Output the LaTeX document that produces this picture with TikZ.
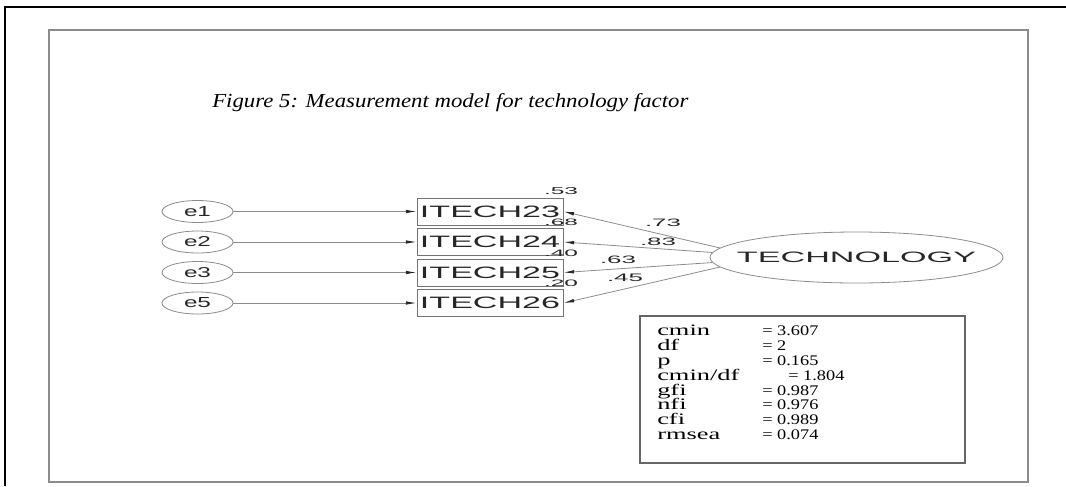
\documentclass[tikz,border=0pt]{standalone}
\usepackage{fontspec}
\setmainfont{Liberation Serif}
\newfontfamily\amosfont{Liberation Sans}
\usetikzlibrary{arrows.meta,shapes.geometric}
\newlength\px
\setlength\px{0.75pt}
\newcommand\fitto[3]{\resizebox{#1\px}{#2\px}{#3}}
\tikzset{
  errnode/.style={ellipse, draw=black!45, line width=0.6pt, minimum width=53.25pt, minimum height=16.5pt, inner sep=0pt, text=black!85},
  obsnode/.style={rectangle, draw=black!55, line width=0.7pt, minimum width=109.5pt, minimum height=20.25pt, inner sep=0pt, text=black!85},
  latnode/.style={ellipse, draw=black!45, line width=0.6pt, minimum width=219.75pt, minimum height=38.25pt, inner sep=0pt, text=black!85},
  conn/.style={draw=black!45, line width=0.6pt, -{Latex[length=8pt,width=2.6pt,color=black!85]}},
  numlab/.style={inner sep=0pt, text=black!85},
  statlab/.style={inner sep=0pt, anchor=base west, font=\fontsize{12pt}{14pt}\selectfont},
  statval/.style={inner sep=0pt, anchor=base west, font=\fontsize{11pt}{13pt}\selectfont},
  framebox/.style={draw=black!45, line width=1.8pt}
}
\begin{document}
\begin{tikzpicture}[x=0.75pt,y=-0.75pt]
\useasboundingbox (0,0) rectangle (1066,486);
% outer frame (partial)
\draw[line width=1pt, black] (5,486) -- (5,7) -- (1066,7);
% inner gray frame
\draw[framebox] (49,30) rectangle (1028,482);

% caption
\node[anchor=base west, inner sep=0pt] (cap) at (212,107)
  {\fitto{476}{14}{\itshape Figure 5: Measurement model for technology factor}};

% error terms
\node[errnode] (e1) at (197.5,211.5) {\fitto{27}{10}{\amosfont e1}};
\node[errnode] (e2) at (197.5,242)   {\fitto{27}{10}{\amosfont e2}};
\node[errnode] (e3) at (197.5,272.5) {\fitto{27}{10}{\amosfont e3}};
\node[errnode] (e5) at (197.5,303)   {\fitto{27}{10}{\amosfont e5}};

% observed variables
\node[obsnode] (b23) at (490,211.5) {\fitto{140}{11.5}{\amosfont ITECH23}};
\node[obsnode] (b24) at (490,242)   {\fitto{140}{11.5}{\amosfont ITECH24}};
\node[obsnode] (b25) at (490,272.5) {\fitto{140}{11.5}{\amosfont ITECH25}};
\node[obsnode] (b26) at (490,303)   {\fitto{140}{11.5}{\amosfont ITECH26}};

% latent factor
\node[latnode] (T) at (856.5,257.5) {\makebox[0pt]{\fitto{239}{10.5}{\amosfont TECHNOLOGY}}};

% connectors
\draw[conn] (e1.east) -- (b23.west);
\draw[conn] (e2.east) -- (b24.west);
\draw[conn] (e3.east) -- (b25.west);
\draw[conn] (e5.east) -- (b26.west);
\draw[conn] (T.176) -- (b23.east);
\draw[conn] (T.178) -- (b24.east);
\draw[conn] (T.182) -- (b25.east);
\draw[conn] (T.184) -- (b26.east);

% squared multiple correlations
\node[numlab] (r23) at (561,191) {\fitto{34}{7}{\amosfont .53}};
\node[numlab] (r24) at (561,222.5) {\fitto{34}{6.5}{\amosfont .68}};
\node[numlab] (r25) at (561,253) {\fitto{34}{6.5}{\amosfont .40}};
\node[numlab] (r26) at (561,283.5) {\fitto{34}{6.5}{\amosfont .20}};

% loadings
\node[numlab] (l23) at (663,223) {\fitto{36}{7.5}{\amosfont .73}};
\node[numlab] (l24) at (658,242) {\fitto{36}{7.5}{\amosfont .83}};
\node[numlab] (l25) at (618,260) {\fitto{36}{7.5}{\amosfont .63}};
\node[numlab] (l26) at (625,278) {\fitto{36}{7.5}{\amosfont .45}};

% fit statistics box
\node[draw=black!60, line width=1.3pt, minimum width=243.75pt, minimum height=110.25pt, inner sep=0pt] (stats) at (802.5,389.5) {};
\node[statlab] (s1l) at (657,335) {\scalebox{1.65}[1]{cmin}};
\node[statval] (s1v) at (762,335) {\scalebox{1.25}[1]{= 3.607}};
\node[statlab] (s2l) at (657,350) {\scalebox{1.65}[1]{df}};
\node[statval] (s2v) at (762,350) {\scalebox{1.25}[1]{= 2}};
\node[statlab] (s3l) at (657,365) {\scalebox{1.65}[1]{p}};
\node[statval] (s3v) at (762,365) {\scalebox{1.25}[1]{= 0.165}};
\node[statlab] (s4l) at (657,380) {\scalebox{1.65}[1]{cmin/df}};
\node[statval] (s4v) at (788,380) {\scalebox{1.25}[1]{= 1.804}};
\node[statlab] (s5l) at (657,395) {\scalebox{1.65}[1]{gfi}};
\node[statval] (s5v) at (762,395) {\scalebox{1.25}[1]{= 0.987}};
\node[statlab] (s6l) at (657,409.5) {\scalebox{1.65}[1]{nfi}};
\node[statval] (s6v) at (762,409.5) {\scalebox{1.25}[1]{= 0.976}};
\node[statlab] (s7l) at (657,424) {\scalebox{1.65}[1]{cfi}};
\node[statval] (s7v) at (762,424) {\scalebox{1.25}[1]{= 0.989}};
\node[statlab] (s8l) at (657,439) {\scalebox{1.65}[1]{rmsea}};
\node[statval] (s8v) at (762,439) {\scalebox{1.25}[1]{= 0.074}};
\end{tikzpicture}
\end{document}
